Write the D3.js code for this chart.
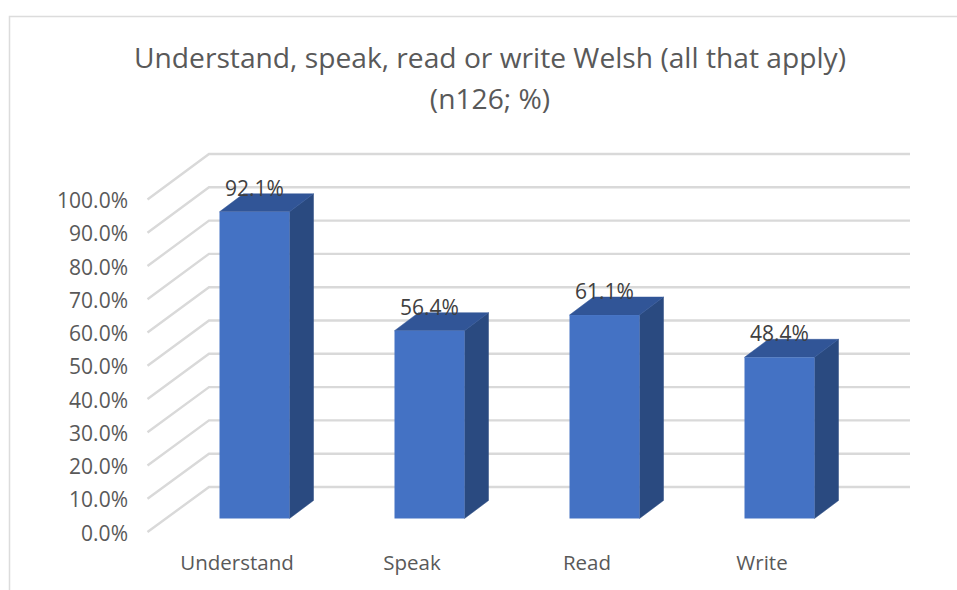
<!DOCTYPE html>
<html><head><meta charset="utf-8">
<script src="https://cdn.jsdelivr.net/npm/d3@7"></script>
<style>html,body{margin:0;padding:0;background:#fff}svg{display:block}text{font-family:"Open Sans","Noto Sans",sans-serif}</style>
</head><body><div id="c"></div>
<script>
const categories = ["Understand","Speak","Read","Write"];
const values = [92.1,56.4,61.1,48.4];
const dataLabels = ["92.1%","56.4%","61.1%","48.4%"];
const ticks = [0,10,20,30,40,50,60,70,80,90,100];
const titleLines = ["Understand, speak, read or write Welsh (all that apply)","(n126; %)"];

const W=957,H=590;
const svg=d3.select("#c").append("svg").attr("width",W).attr("height",H);
const x=d3.scaleBand().domain(categories).range([167,867]).paddingInner(0.6).paddingOuter(0.3);
const y=d3.scaleLinear().domain([0,100]).range([518.5,185.5]);
const gridY=d3.scaleLinear().domain([0,100]).range([487,154]);
const wallY=d3.scaleLinear().domain([0,100]).range([532,199.5]);
const wallLeft=147.5, wallBack=209, wallRight=910, depthX=24, depthY=18;

// chart frame
svg.append("path").attr("d",`M9.5,${H}V16.5H${W}`).attr("fill","none").attr("stroke","#dcdcdc").attr("stroke-width",1.5);

// gridlines
const grid=svg.append("g").attr("fill","none").attr("stroke","#d9d9d9").attr("stroke-width",2.4);
grid.selectAll("path").data(ticks).join("path")
  .attr("d",d=>`M${wallLeft},${wallY(d)}L${wallBack},${gridY(d)}H${wallRight}`);

// bars
const bars=svg.append("g").selectAll("g").data(categories).join("g");
const bw=x.bandwidth();
bars.append("path").attr("fill","#2a4a80").attr("stroke","#2a4a80").attr("stroke-width",0.5)
  .attr("d",(c,i)=>{const r=x(c)+bw,t=y(values[i]),b=y(0);
    return `M${r},${t}L${r+depthX},${t-depthY}V${b-depthY}L${r},${b}Z`;});
bars.append("path").attr("fill","#315597").attr("stroke","#315597").attr("stroke-width",0.5)
  .attr("d",(c,i)=>{const l=x(c),r=l+bw,t=y(values[i]);
    return `M${l},${t}L${l+depthX},${t-depthY}H${r+depthX}L${r},${t}Z`;});
bars.append("rect").attr("fill","#4472c4")
  .attr("x",c=>x(c)).attr("width",bw)
  .attr("y",(c,i)=>y(values[i])).attr("height",(c,i)=>y(0)-y(values[i]));

// data labels
svg.append("g").selectAll("text").data(categories).join("text")
  .attr("x",c=>x(c)+bw/2).attr("y",(c,i)=>y(values[i])-16)
  .attr("text-anchor","middle").attr("font-size",21).attr("fill","#404040")
  .text((c,i)=>dataLabels[i]);

// value axis labels
svg.append("g").selectAll("text").data(ticks).join("text")
  .attr("x",128).attr("y",d=>wallY(d)+8.5)
  .attr("text-anchor","end").attr("font-size",21).attr("fill","#595959")
  .text(d=>d3.format(".1f")(d)+"%");

// category labels
svg.append("g").selectAll("text").data(categories).join("text")
  .attr("x",c=>x(c)+bw/2-17.5).attr("y",570)
  .attr("text-anchor","middle").attr("font-size",20.5).attr("fill","#595959")
  .text(c=>c);

// title
svg.append("g").selectAll("text").data(titleLines).join("text")
  .attr("x",490).attr("y",(d,i)=>68+i*41)
  .attr("text-anchor","middle").attr("font-size",28.2).attr("fill","#595959")
  .text(d=>d);
</script></body></html>
